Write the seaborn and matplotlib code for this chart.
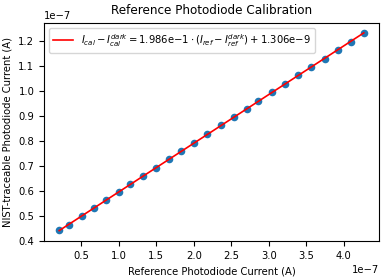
import numpy as np
import pandas as pd
import seaborn as sns
import matplotlib.pyplot as plt

# reference photodiode current (x1e-7 A) and NIST-traceable photodiode current (x1e-7 A)
ref_current = [0.207, 0.331, 0.504, 0.664, 0.836, 1.009, 1.156, 1.328, 1.497, 1.674,
               1.830, 2.007, 2.180, 2.362, 2.539, 2.711, 2.860, 3.044, 3.213, 3.390,
               3.559, 3.749, 3.922, 4.090, 4.267]
nist_current = [0.443, 0.464, 0.497, 0.529, 0.561, 0.594, 0.626, 0.658, 0.690, 0.726,
                0.759, 0.790, 0.826, 0.862, 0.894, 0.925, 0.958, 0.993, 1.026, 1.062,
                1.093, 1.129, 1.165, 1.197, 1.233]

fit_label = (r'$I_{cal} - I_{cal}^{dark} = 1.986\mathrm{e}{-1} \cdot '
             r'(I_{ref} - I_{ref}^{dark}) + 1.306\mathrm{e}{-9}$')

df = pd.DataFrame({'ref': np.array(ref_current) * 1e-7,
                   'nist': np.array(nist_current) * 1e-7})
slope, intercept = np.polyfit(df['ref'], df['nist'], 1)
df['fit'] = slope * df['ref'] + intercept

plt.rcParams['font.size'] = 7.2

fig, ax = plt.subplots(figsize=(3.86, 2.78), dpi=100)
fig.subplots_adjust(left=0.114, right=0.982, top=0.918, bottom=0.133)

sns.scatterplot(data=df, x='ref', y='nist', s=30, color='#1f77b4', linewidth=0, ax=ax)
sns.lineplot(data=df, x='ref', y='fit', color='red', linewidth=1.2, label=fit_label, ax=ax)

ax.set_ylim(0.398e-7, 1.272e-7)
ax.set_title('Reference Photodiode Calibration', fontsize=8.64)
ax.set_xlabel('Reference Photodiode Current (A)')
ax.set_ylabel('NIST-traceable Photodiode Current (A)')
ax.legend(loc='upper left')

plt.savefig('out.png', dpi=100)
plt.close()
